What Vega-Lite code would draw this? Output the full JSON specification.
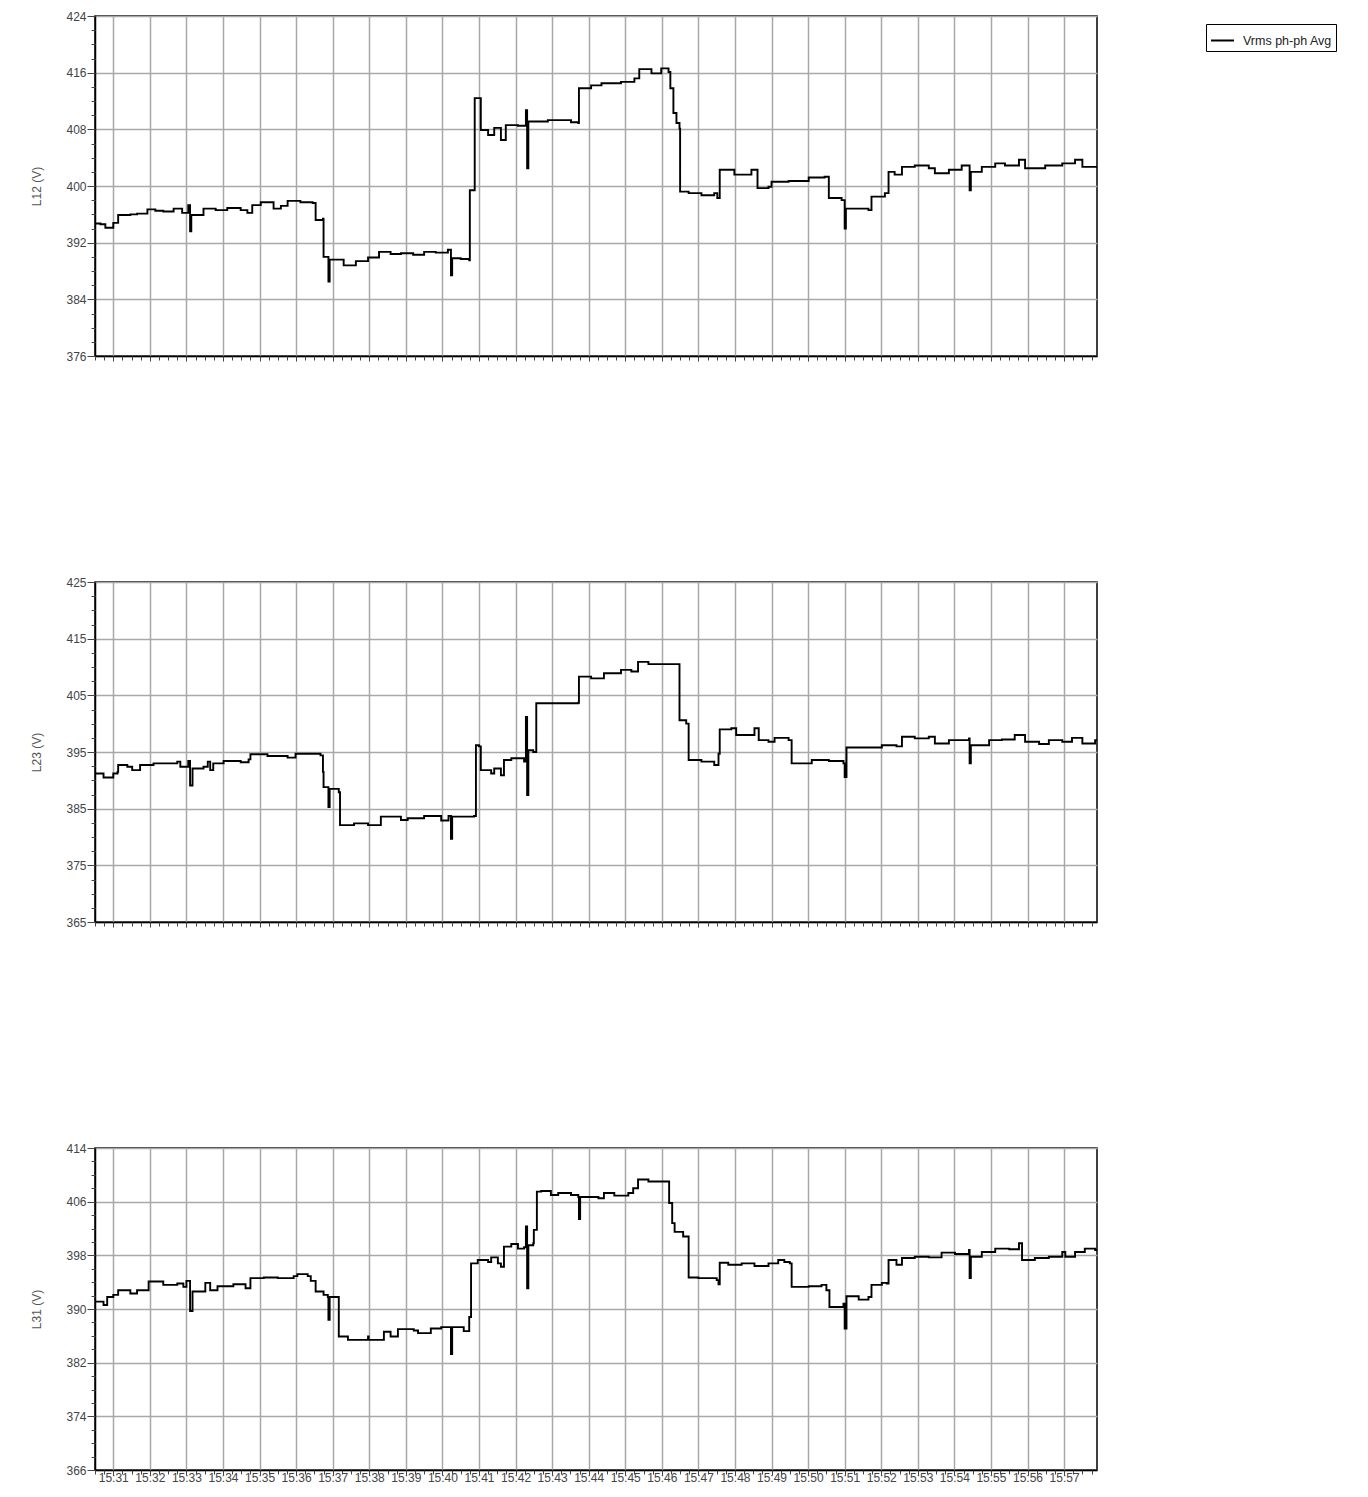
{
"$schema":"https://vega.github.io/schema/vega-lite/v6.json",
"background":"white",
"padding":{"left":30,"top":9,"right":0,"bottom":0},
"spacing":212,
"config":{
 "font":"Liberation Sans",
 "view":{"stroke":"#000","strokeWidth":1.5},
 "axis":{"labelFont":"Liberation Sans","labelFontSize":12,"labelColor":"#444","titleFont":"Liberation Sans","titleFontSize":12,"titleFontWeight":"normal","titleColor":"#555","domainColor":"#000","domainWidth":1.5,"tickColor":"#444","gridColor":"#a8a8a8","gridWidth":1.5,"gridOpacity":1}
},
"datasets":{
"a":[
{"t":"2024-01-01T15:30:30","v":394.7},{"t":"2024-01-01T15:30:39","v":394.6},{"t":"2024-01-01T15:30:47","v":394.1},{"t":"2024-01-01T15:31:00","v":394.8},{"t":"2024-01-01T15:31:08","v":395.9},{"t":"2024-01-01T15:31:28","v":396.0},{"t":"2024-01-01T15:31:39","v":396.1},{"t":"2024-01-01T15:31:56","v":396.7},{"t":"2024-01-01T15:32:09","v":396.5},{"t":"2024-01-01T15:32:22","v":396.4},{"t":"2024-01-01T15:32:39","v":396.8},{"t":"2024-01-01T15:32:53","v":396.2},{"t":"2024-01-01T15:33:03","v":397.3},{"t":"2024-01-01T15:33:06","v":393.6},{"t":"2024-01-01T15:33:08","v":395.9},{"t":"2024-01-01T15:33:28","v":396.8},{"t":"2024-01-01T15:33:48","v":396.6},{"t":"2024-01-01T15:34:07","v":396.9},{"t":"2024-01-01T15:34:29","v":396.6},{"t":"2024-01-01T15:34:40","v":396.2},{"t":"2024-01-01T15:34:48","v":397.3},{"t":"2024-01-01T15:35:02","v":397.7},{"t":"2024-01-01T15:35:23","v":396.8},{"t":"2024-01-01T15:35:35","v":397.2},{"t":"2024-01-01T15:35:46","v":397.9},{"t":"2024-01-01T15:36:07","v":397.7},{"t":"2024-01-01T15:36:27","v":397.6},{"t":"2024-01-01T15:36:32","v":395.2},{"t":"2024-01-01T15:36:44","v":395.4},{"t":"2024-01-01T15:36:45","v":390.0},{"t":"2024-01-01T15:36:53","v":386.5},{"t":"2024-01-01T15:36:55","v":389.6},{"t":"2024-01-01T15:37:18","v":388.8},{"t":"2024-01-01T15:37:38","v":389.4},{"t":"2024-01-01T15:37:58","v":389.9},{"t":"2024-01-01T15:38:16","v":390.7},{"t":"2024-01-01T15:38:35","v":390.4},{"t":"2024-01-01T15:38:52","v":390.5},{"t":"2024-01-01T15:39:12","v":390.3},{"t":"2024-01-01T15:39:30","v":390.7},{"t":"2024-01-01T15:39:49","v":390.6},{"t":"2024-01-01T15:40:09","v":391.0},{"t":"2024-01-01T15:40:14","v":387.4},{"t":"2024-01-01T15:40:16","v":389.8},{"t":"2024-01-01T15:40:30","v":389.7},{"t":"2024-01-01T15:40:44","v":389.5},{"t":"2024-01-01T15:40:45","v":399.4},{"t":"2024-01-01T15:40:53","v":412.4},{"t":"2024-01-01T15:41:03","v":407.9},{"t":"2024-01-01T15:41:15","v":407.2},{"t":"2024-01-01T15:41:25","v":408.2},{"t":"2024-01-01T15:41:36","v":406.5},{"t":"2024-01-01T15:41:44","v":408.6},{"t":"2024-01-01T15:42:04","v":408.5},{"t":"2024-01-01T15:42:17","v":410.7},{"t":"2024-01-01T15:42:19","v":402.5},{"t":"2024-01-01T15:42:21","v":409.1},{"t":"2024-01-01T15:42:53","v":409.3},{"t":"2024-01-01T15:43:20","v":409.3},{"t":"2024-01-01T15:43:31","v":409.0},{"t":"2024-01-01T15:43:43","v":408.9},{"t":"2024-01-01T15:43:44","v":413.8},{"t":"2024-01-01T15:44:04","v":414.2},{"t":"2024-01-01T15:44:21","v":414.5},{"t":"2024-01-01T15:44:53","v":414.7},{"t":"2024-01-01T15:45:15","v":415.2},{"t":"2024-01-01T15:45:23","v":416.5},{"t":"2024-01-01T15:45:43","v":415.9},{"t":"2024-01-01T15:45:59","v":416.6},{"t":"2024-01-01T15:46:11","v":416.1},{"t":"2024-01-01T15:46:14","v":413.8},{"t":"2024-01-01T15:46:19","v":410.3},{"t":"2024-01-01T15:46:24","v":408.9},{"t":"2024-01-01T15:46:29","v":408.1},{"t":"2024-01-01T15:46:30","v":399.2},{"t":"2024-01-01T15:46:44","v":399.0},{"t":"2024-01-01T15:47:05","v":398.7},{"t":"2024-01-01T15:47:26","v":399.0},{"t":"2024-01-01T15:47:31","v":398.3},{"t":"2024-01-01T15:47:35","v":402.3},{"t":"2024-01-01T15:47:59","v":401.6},{"t":"2024-01-01T15:48:27","v":402.3},{"t":"2024-01-01T15:48:37","v":399.7},{"t":"2024-01-01T15:48:55","v":399.9},{"t":"2024-01-01T15:49:00","v":400.6},{"t":"2024-01-01T15:49:28","v":400.7},{"t":"2024-01-01T15:50:01","v":401.2},{"t":"2024-01-01T15:50:27","v":401.3},{"t":"2024-01-01T15:50:34","v":398.3},{"t":"2024-01-01T15:50:55","v":398.0},{"t":"2024-01-01T15:51:00","v":394.0},{"t":"2024-01-01T15:51:02","v":396.8},{"t":"2024-01-01T15:51:39","v":396.6},{"t":"2024-01-01T15:51:44","v":398.5},{"t":"2024-01-01T15:52:06","v":399.0},{"t":"2024-01-01T15:52:12","v":402.0},{"t":"2024-01-01T15:52:22","v":401.6},{"t":"2024-01-01T15:52:34","v":402.7},{"t":"2024-01-01T15:52:55","v":402.9},{"t":"2024-01-01T15:53:18","v":402.5},{"t":"2024-01-01T15:53:28","v":401.8},{"t":"2024-01-01T15:53:51","v":402.3},{"t":"2024-01-01T15:54:12","v":402.9},{"t":"2024-01-01T15:54:25","v":399.4},{"t":"2024-01-01T15:54:27","v":402.0},{"t":"2024-01-01T15:54:45","v":402.7},{"t":"2024-01-01T15:55:07","v":403.2},{"t":"2024-01-01T15:55:23","v":402.9},{"t":"2024-01-01T15:55:46","v":403.7},{"t":"2024-01-01T15:55:56","v":402.5},{"t":"2024-01-01T15:56:29","v":402.9},{"t":"2024-01-01T15:56:57","v":403.2},{"t":"2024-01-01T15:57:18","v":403.7},{"t":"2024-01-01T15:57:30","v":402.7},{"t":"2024-01-01T15:57:54","v":402.8}
],
"b":[
{"t":"2024-01-01T15:30:30","v":391.2},{"t":"2024-01-01T15:30:44","v":390.5},{"t":"2024-01-01T15:31:00","v":391.2},{"t":"2024-01-01T15:31:07","v":391.5},{"t":"2024-01-01T15:31:08","v":392.7},{"t":"2024-01-01T15:31:23","v":392.4},{"t":"2024-01-01T15:31:31","v":391.8},{"t":"2024-01-01T15:31:44","v":392.7},{"t":"2024-01-01T15:32:06","v":393.0},{"t":"2024-01-01T15:32:45","v":393.3},{"t":"2024-01-01T15:32:50","v":392.4},{"t":"2024-01-01T15:33:03","v":393.4},{"t":"2024-01-01T15:33:06","v":389.1},{"t":"2024-01-01T15:33:10","v":392.1},{"t":"2024-01-01T15:33:28","v":392.4},{"t":"2024-01-01T15:33:35","v":393.3},{"t":"2024-01-01T15:33:39","v":391.8},{"t":"2024-01-01T15:33:44","v":393.0},{"t":"2024-01-01T15:34:01","v":393.4},{"t":"2024-01-01T15:34:29","v":393.2},{"t":"2024-01-01T15:34:42","v":393.7},{"t":"2024-01-01T15:34:45","v":394.6},{"t":"2024-01-01T15:35:13","v":394.3},{"t":"2024-01-01T15:35:46","v":394.0},{"t":"2024-01-01T15:35:59","v":394.7},{"t":"2024-01-01T15:36:40","v":394.4},{"t":"2024-01-01T15:36:44","v":391.5},{"t":"2024-01-01T15:36:45","v":388.8},{"t":"2024-01-01T15:36:53","v":385.3},{"t":"2024-01-01T15:36:55","v":388.5},{"t":"2024-01-01T15:37:02","v":388.5},{"t":"2024-01-01T15:37:10","v":387.9},{"t":"2024-01-01T15:37:12","v":382.1},{"t":"2024-01-01T15:37:35","v":382.4},{"t":"2024-01-01T15:37:58","v":382.1},{"t":"2024-01-01T15:38:19","v":383.6},{"t":"2024-01-01T15:38:52","v":383.0},{"t":"2024-01-01T15:39:03","v":383.3},{"t":"2024-01-01T15:39:30","v":383.7},{"t":"2024-01-01T15:39:58","v":382.9},{"t":"2024-01-01T15:40:10","v":383.7},{"t":"2024-01-01T15:40:14","v":379.7},{"t":"2024-01-01T15:40:16","v":383.6},{"t":"2024-01-01T15:40:52","v":383.7},{"t":"2024-01-01T15:40:55","v":396.2},{"t":"2024-01-01T15:41:00","v":396.0},{"t":"2024-01-01T15:41:03","v":391.8},{"t":"2024-01-01T15:41:20","v":391.2},{"t":"2024-01-01T15:41:25","v":392.1},{"t":"2024-01-01T15:41:36","v":390.9},{"t":"2024-01-01T15:41:41","v":393.6},{"t":"2024-01-01T15:41:53","v":393.9},{"t":"2024-01-01T15:42:14","v":393.3},{"t":"2024-01-01T15:42:17","v":401.2},{"t":"2024-01-01T15:42:19","v":387.4},{"t":"2024-01-01T15:42:21","v":395.3},{"t":"2024-01-01T15:42:29","v":395.0},{"t":"2024-01-01T15:42:34","v":403.6},{"t":"2024-01-01T15:43:10","v":403.6},{"t":"2024-01-01T15:43:43","v":403.7},{"t":"2024-01-01T15:43:44","v":408.3},{"t":"2024-01-01T15:44:04","v":408.0},{"t":"2024-01-01T15:44:25","v":408.9},{"t":"2024-01-01T15:44:53","v":409.5},{"t":"2024-01-01T15:45:10","v":409.2},{"t":"2024-01-01T15:45:21","v":410.9},{"t":"2024-01-01T15:45:38","v":410.5},{"t":"2024-01-01T15:46:27","v":410.5},{"t":"2024-01-01T15:46:29","v":400.6},{"t":"2024-01-01T15:46:40","v":400.0},{"t":"2024-01-01T15:46:44","v":393.6},{"t":"2024-01-01T15:47:05","v":393.3},{"t":"2024-01-01T15:47:26","v":392.7},{"t":"2024-01-01T15:47:33","v":394.7},{"t":"2024-01-01T15:47:35","v":399.0},{"t":"2024-01-01T15:47:54","v":399.2},{"t":"2024-01-01T15:48:02","v":398.0},{"t":"2024-01-01T15:48:32","v":399.2},{"t":"2024-01-01T15:48:39","v":397.1},{"t":"2024-01-01T15:48:55","v":396.8},{"t":"2024-01-01T15:49:05","v":397.5},{"t":"2024-01-01T15:49:28","v":397.1},{"t":"2024-01-01T15:49:33","v":393.0},{"t":"2024-01-01T15:50:06","v":393.6},{"t":"2024-01-01T15:50:34","v":393.4},{"t":"2024-01-01T15:50:58","v":393.0},{"t":"2024-01-01T15:51:00","v":390.6},{"t":"2024-01-01T15:51:03","v":395.8},{"t":"2024-01-01T15:51:39","v":395.8},{"t":"2024-01-01T15:52:01","v":396.2},{"t":"2024-01-01T15:52:25","v":396.0},{"t":"2024-01-01T15:52:34","v":397.7},{"t":"2024-01-01T15:52:55","v":397.4},{"t":"2024-01-01T15:53:18","v":397.7},{"t":"2024-01-01T15:53:28","v":396.5},{"t":"2024-01-01T15:53:51","v":397.1},{"t":"2024-01-01T15:54:24","v":397.4},{"t":"2024-01-01T15:54:25","v":393.0},{"t":"2024-01-01T15:54:27","v":396.2},{"t":"2024-01-01T15:54:57","v":397.1},{"t":"2024-01-01T15:55:18","v":397.2},{"t":"2024-01-01T15:55:39","v":398.0},{"t":"2024-01-01T15:55:56","v":396.8},{"t":"2024-01-01T15:56:19","v":396.4},{"t":"2024-01-01T15:56:35","v":397.1},{"t":"2024-01-01T15:56:57","v":396.8},{"t":"2024-01-01T15:57:13","v":397.5},{"t":"2024-01-01T15:57:30","v":396.5},{"t":"2024-01-01T15:57:51","v":397.1},{"t":"2024-01-01T15:57:54","v":397.1}
],
"c":[
{"t":"2024-01-01T15:30:30","v":391.1},{"t":"2024-01-01T15:30:44","v":390.6},{"t":"2024-01-01T15:30:50","v":391.8},{"t":"2024-01-01T15:31:00","v":392.1},{"t":"2024-01-01T15:31:08","v":392.8},{"t":"2024-01-01T15:31:28","v":392.3},{"t":"2024-01-01T15:31:39","v":392.8},{"t":"2024-01-01T15:31:58","v":394.1},{"t":"2024-01-01T15:32:22","v":393.6},{"t":"2024-01-01T15:32:45","v":393.8},{"t":"2024-01-01T15:32:55","v":393.3},{"t":"2024-01-01T15:33:00","v":394.2},{"t":"2024-01-01T15:33:06","v":389.7},{"t":"2024-01-01T15:33:10","v":392.6},{"t":"2024-01-01T15:33:31","v":393.9},{"t":"2024-01-01T15:33:39","v":392.8},{"t":"2024-01-01T15:33:51","v":393.4},{"t":"2024-01-01T15:34:17","v":393.7},{"t":"2024-01-01T15:34:37","v":393.1},{"t":"2024-01-01T15:34:45","v":394.6},{"t":"2024-01-01T15:35:07","v":394.7},{"t":"2024-01-01T15:35:30","v":394.6},{"t":"2024-01-01T15:35:56","v":394.9},{"t":"2024-01-01T15:36:02","v":395.2},{"t":"2024-01-01T15:36:19","v":394.9},{"t":"2024-01-01T15:36:24","v":394.2},{"t":"2024-01-01T15:36:32","v":392.6},{"t":"2024-01-01T15:36:45","v":392.1},{"t":"2024-01-01T15:36:52","v":391.8},{"t":"2024-01-01T15:36:53","v":388.4},{"t":"2024-01-01T15:36:55","v":391.8},{"t":"2024-01-01T15:37:08","v":391.8},{"t":"2024-01-01T15:37:10","v":385.9},{"t":"2024-01-01T15:37:25","v":385.4},{"t":"2024-01-01T15:37:58","v":385.9},{"t":"2024-01-01T15:37:59","v":385.4},{"t":"2024-01-01T15:38:24","v":386.6},{"t":"2024-01-01T15:38:35","v":385.9},{"t":"2024-01-01T15:38:47","v":387.0},{"t":"2024-01-01T15:39:13","v":386.8},{"t":"2024-01-01T15:39:20","v":386.4},{"t":"2024-01-01T15:39:41","v":387.1},{"t":"2024-01-01T15:39:58","v":387.3},{"t":"2024-01-01T15:40:14","v":383.3},{"t":"2024-01-01T15:40:16","v":387.3},{"t":"2024-01-01T15:40:35","v":386.7},{"t":"2024-01-01T15:40:44","v":388.8},{"t":"2024-01-01T15:40:47","v":396.8},{"t":"2024-01-01T15:40:58","v":397.3},{"t":"2024-01-01T15:41:15","v":397.0},{"t":"2024-01-01T15:41:20","v":397.7},{"t":"2024-01-01T15:41:31","v":396.8},{"t":"2024-01-01T15:41:36","v":396.3},{"t":"2024-01-01T15:41:41","v":399.3},{"t":"2024-01-01T15:41:53","v":399.7},{"t":"2024-01-01T15:42:04","v":399.0},{"t":"2024-01-01T15:42:14","v":399.2},{"t":"2024-01-01T15:42:17","v":402.3},{"t":"2024-01-01T15:42:19","v":393.1},{"t":"2024-01-01T15:42:21","v":399.5},{"t":"2024-01-01T15:42:29","v":399.8},{"t":"2024-01-01T15:42:30","v":401.8},{"t":"2024-01-01T15:42:35","v":407.5},{"t":"2024-01-01T15:42:42","v":407.6},{"t":"2024-01-01T15:42:58","v":407.0},{"t":"2024-01-01T15:43:10","v":407.3},{"t":"2024-01-01T15:43:31","v":407.0},{"t":"2024-01-01T15:43:43","v":406.7},{"t":"2024-01-01T15:43:44","v":403.4},{"t":"2024-01-01T15:43:46","v":406.7},{"t":"2024-01-01T15:44:16","v":406.5},{"t":"2024-01-01T15:44:25","v":407.3},{"t":"2024-01-01T15:44:42","v":406.9},{"t":"2024-01-01T15:45:05","v":407.3},{"t":"2024-01-01T15:45:13","v":408.0},{"t":"2024-01-01T15:45:21","v":409.3},{"t":"2024-01-01T15:45:38","v":409.0},{"t":"2024-01-01T15:46:11","v":409.0},{"t":"2024-01-01T15:46:12","v":405.8},{"t":"2024-01-01T15:46:17","v":402.8},{"t":"2024-01-01T15:46:21","v":401.5},{"t":"2024-01-01T15:46:35","v":400.8},{"t":"2024-01-01T15:46:44","v":394.7},{"t":"2024-01-01T15:47:00","v":394.6},{"t":"2024-01-01T15:47:30","v":394.3},{"t":"2024-01-01T15:47:33","v":393.7},{"t":"2024-01-01T15:47:35","v":396.9},{"t":"2024-01-01T15:47:49","v":396.6},{"t":"2024-01-01T15:48:11","v":396.8},{"t":"2024-01-01T15:48:32","v":396.4},{"t":"2024-01-01T15:48:55","v":396.8},{"t":"2024-01-01T15:49:11","v":397.3},{"t":"2024-01-01T15:49:21","v":397.0},{"t":"2024-01-01T15:49:30","v":396.8},{"t":"2024-01-01T15:49:33","v":393.3},{"t":"2024-01-01T15:50:01","v":393.4},{"t":"2024-01-01T15:50:22","v":393.6},{"t":"2024-01-01T15:50:30","v":392.8},{"t":"2024-01-01T15:50:35","v":390.3},{"t":"2024-01-01T15:50:58","v":390.8},{"t":"2024-01-01T15:51:00","v":387.1},{"t":"2024-01-01T15:51:03","v":391.9},{"t":"2024-01-01T15:51:23","v":391.4},{"t":"2024-01-01T15:51:39","v":391.8},{"t":"2024-01-01T15:51:44","v":393.6},{"t":"2024-01-01T15:52:01","v":393.9},{"t":"2024-01-01T15:52:09","v":393.8},{"t":"2024-01-01T15:52:12","v":397.3},{"t":"2024-01-01T15:52:25","v":396.6},{"t":"2024-01-01T15:52:34","v":397.6},{"t":"2024-01-01T15:52:55","v":397.8},{"t":"2024-01-01T15:53:18","v":397.7},{"t":"2024-01-01T15:53:39","v":398.4},{"t":"2024-01-01T15:54:01","v":398.2},{"t":"2024-01-01T15:54:24","v":398.8},{"t":"2024-01-01T15:54:25","v":394.6},{"t":"2024-01-01T15:54:27","v":397.8},{"t":"2024-01-01T15:54:45","v":398.5},{"t":"2024-01-01T15:55:07","v":399.0},{"t":"2024-01-01T15:55:30","v":398.9},{"t":"2024-01-01T15:55:46","v":399.8},{"t":"2024-01-01T15:55:51","v":397.3},{"t":"2024-01-01T15:56:12","v":397.6},{"t":"2024-01-01T15:56:35","v":397.8},{"t":"2024-01-01T15:56:57","v":398.5},{"t":"2024-01-01T15:57:02","v":397.8},{"t":"2024-01-01T15:57:18","v":398.5},{"t":"2024-01-01T15:57:34","v":399.0},{"t":"2024-01-01T15:57:51","v":398.8},{"t":"2024-01-01T15:57:54","v":398.8}
]
},
"vconcat":[
{
 "width":1002,"height":340,
 "data":{"name":"a"},
 "layer":[
  {"mark":{"type":"line","interpolate":"step-after","strokeWidth":1.9,"clip":true},
   "encoding":{
    "x":{"field":"t","type":"temporal","scale":{"nice":false},
         "axis":{"orient":"bottom","title":null,"tickCount":26,"labels":false,"grid":true,"tickSize":5}},
    "y":{"field":"v","type":"quantitative","scale":{"domain":[376,424],"nice":false,"zero":false},
         "axis":{"orient":"left","title":"L12 (V)","values":[376,384,392,400,408,416,424],"grid":true,"tickSize":8,"labelPadding":1,"titlePadding":22}},
    "color":{"datum":"Vrms ph-ph Avg","scale":{"range":["#000000"]},
         "legend":{"title":null,"orient":"none","legendX":1111,"legendY":8,"strokeColor":"#000","fillColor":"#fff","padding":4,"symbolType":"stroke","symbolStrokeWidth":2,"symbolSize":529,"labelOffset":8,"labelFont":"Liberation Sans","labelFontSize":12.5,"labelColor":"#222"}}
   }},
  {"mark":{"type":"line","opacity":0},
   "encoding":{
    "x":{"field":"t","type":"temporal","axis":{"orient":"bottom","title":null,"tickCount":110,"labels":false,"grid":false,"domain":false,"tickSize":4}},
    "y":{"field":"v","type":"quantitative","axis":{"orient":"left","title":null,"values":[376,378,380,382,384,386,388,390,392,394,396,398,400,402,404,406,408,410,412,414,416,418,420,422,424],"labels":false,"grid":false,"domain":false,"tickSize":4}}
   }}
 ],
 "resolve":{"axis":{"x":"independent","y":"independent"}}
},
{
 "width":1002,"height":340,
 "data":{"name":"b"},
 "layer":[
  {"mark":{"type":"line","interpolate":"step-after","strokeWidth":1.9,"color":"#000","clip":true},
   "encoding":{
    "x":{"field":"t","type":"temporal","scale":{"nice":false},
         "axis":{"orient":"bottom","title":null,"tickCount":26,"labels":false,"grid":true,"tickSize":5}},
    "y":{"field":"v","type":"quantitative","scale":{"domain":[365,425],"nice":false,"zero":false},
         "axis":{"orient":"left","title":"L23 (V)","values":[365,375,385,395,405,415,425],"grid":true,"tickSize":8,"labelPadding":1,"titlePadding":22}}
   }},
  {"mark":{"type":"line","opacity":0},
   "encoding":{
    "x":{"field":"t","type":"temporal","axis":{"orient":"bottom","title":null,"tickCount":110,"labels":false,"grid":false,"domain":false,"tickSize":4}},
    "y":{"field":"v","type":"quantitative","axis":{"orient":"left","title":null,"values":[365,367.5,370,372.5,375,377.5,380,382.5,385,387.5,390,392.5,395,397.5,400,402.5,405,407.5,410,412.5,415,417.5,420,422.5,425],"labels":false,"grid":false,"domain":false,"tickSize":4}}
   }}
 ],
 "resolve":{"axis":{"x":"independent","y":"independent"}}
},
{
 "width":1002,"height":322,
 "data":{"name":"c"},
 "layer":[
  {"mark":{"type":"line","interpolate":"step-after","strokeWidth":1.9,"color":"#000","clip":true},
   "encoding":{
    "x":{"field":"t","type":"temporal","scale":{"nice":false},
         "axis":{"orient":"bottom","title":null,"tickCount":26,"format":"%H:%M","labels":true,"grid":true,"tickSize":5,"labelPadding":-3}},
    "y":{"field":"v","type":"quantitative","scale":{"domain":[366,414],"nice":false,"zero":false},
         "axis":{"orient":"left","title":"L31 (V)","values":[366,374,382,390,398,406,414],"grid":true,"tickSize":8,"labelPadding":1,"titlePadding":22}}
   }},
  {"mark":{"type":"line","opacity":0},
   "encoding":{
    "x":{"field":"t","type":"temporal","axis":{"orient":"bottom","title":null,"tickCount":110,"labels":false,"grid":false,"domain":false,"tickSize":4}},
    "y":{"field":"v","type":"quantitative","axis":{"orient":"left","title":null,"values":[366,368,370,372,374,376,378,380,382,384,386,388,390,392,394,396,398,400,402,404,406,408,410,412,414],"labels":false,"grid":false,"domain":false,"tickSize":4}}
   }}
 ],
 "resolve":{"axis":{"x":"independent","y":"independent"}}
}
]
}
